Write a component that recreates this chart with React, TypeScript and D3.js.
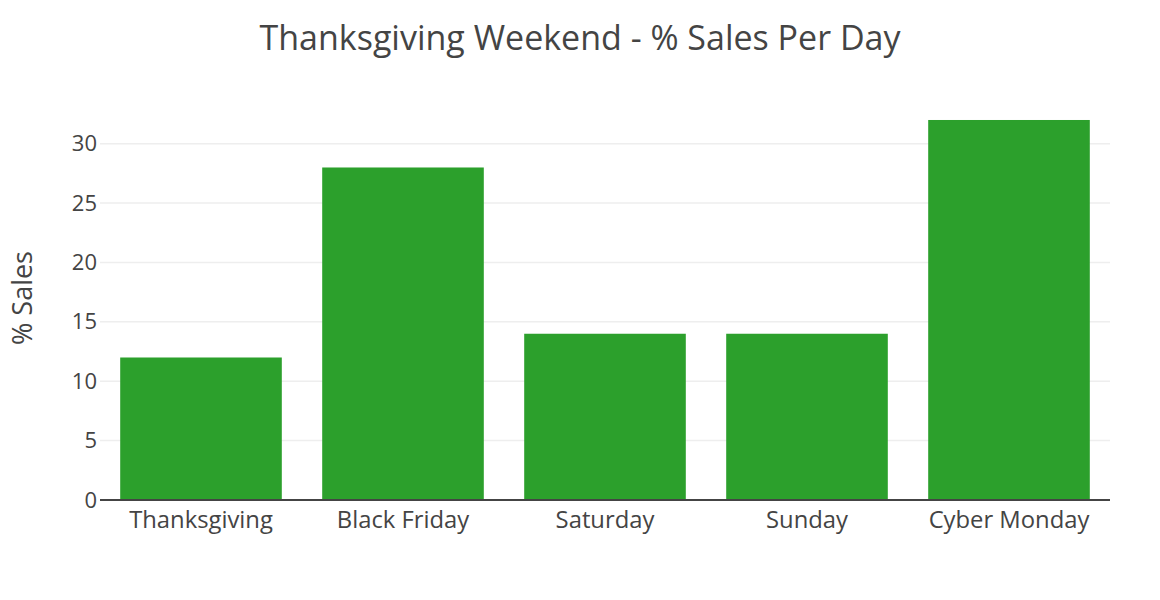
import { useEffect, useRef } from "react";
import * as d3 from "d3";

const days = ["Thanksgiving", "Black Friday", "Saturday", "Sunday", "Cyber Monday"];
const salesPct = [12, 28, 14, 14, 32];
const yTicks = [0, 5, 10, 15, 20, 25, 30];

const W = 1160;
const H = 600;
const FONT = "'Open Sans', sans-serif";

export default function App() {
  const svgRef = useRef<SVGSVGElement>(null);

  useEffect(() => {
    document.body.style.margin = "0";
    if (!svgRef.current) return;

    const margin = { top: 100, right: 50, bottom: 100, left: 100 };
    const width = W - margin.left - margin.right;
    const height = H - margin.top - margin.bottom;

    const svg = d3.select(svgRef.current);
    svg.selectAll("*").remove();

    svg.append("rect").attr("width", W).attr("height", H).attr("fill", "#fff");

    const g = svg.append("g").attr("transform", `translate(${margin.left},${margin.top})`);

    const x = d3.scaleBand().domain(days).range([0, width]).paddingInner(0.2).paddingOuter(0.1);
    const yMax = (d3.max(salesPct) ?? 0) * 1.0526;
    const y = d3.scaleLinear().domain([0, yMax]).range([height, 0]);

    // gridlines
    g.append("g")
      .selectAll("line")
      .data(yTicks.filter((t) => t > 0))
      .join("line")
      .attr("x1", 0)
      .attr("x2", width)
      .attr("y1", (d) => y(d))
      .attr("y2", (d) => y(d))
      .attr("stroke", "#eee")
      .attr("stroke-width", 1.5);

    // bars
    g.append("g")
      .selectAll("rect")
      .data(salesPct)
      .join("rect")
      .attr("x", (_, i) => x(days[i]) ?? 0)
      .attr("width", x.bandwidth())
      .attr("y", (d) => y(d))
      .attr("height", (d) => height - y(d))
      .attr("fill", "#2ca02c");

    // zero line
    g.append("line")
      .attr("x1", 0)
      .attr("x2", width)
      .attr("y1", y(0))
      .attr("y2", y(0))
      .attr("stroke", "#444")
      .attr("stroke-width", 2);

    // y axis labels
    g.append("g")
      .call(d3.axisLeft(y).tickValues(yTicks).tickSize(0).tickPadding(3))
      .call((ax) => ax.select(".domain").remove())
      .call((ax) =>
        ax.selectAll("text").attr("fill", "#444").attr("font-size", 22).attr("font-family", FONT)
      );

    // x axis labels
    g.append("g")
      .attr("transform", `translate(0,${height})`)
      .call(d3.axisBottom(x).tickSize(0).tickPadding(11))
      .call((ax) => ax.select(".domain").remove())
      .call((ax) =>
        ax.selectAll("text").attr("fill", "#444").attr("font-size", 23.8).attr("font-family", FONT)
      );

    // y title
    svg.append("text")
      .attr("transform", `translate(32,${margin.top + height / 2 - 2}) rotate(-90)`)
      .attr("text-anchor", "middle")
      .attr("fill", "#444")
      .attr("font-size", 27)
      .attr("font-family", FONT)
      .text("% Sales");

    // title
    svg.append("text")
      .attr("x", W / 2)
      .attr("y", 50)
      .attr("text-anchor", "middle")
      .attr("fill", "#444")
      .attr("font-size", 34)
      .attr("font-family", FONT)
      .text("Thanksgiving Weekend - % Sales Per Day");
  }, []);

  return <svg ref={svgRef} width={W} height={H} style={{ display: "block" }} />;
}
